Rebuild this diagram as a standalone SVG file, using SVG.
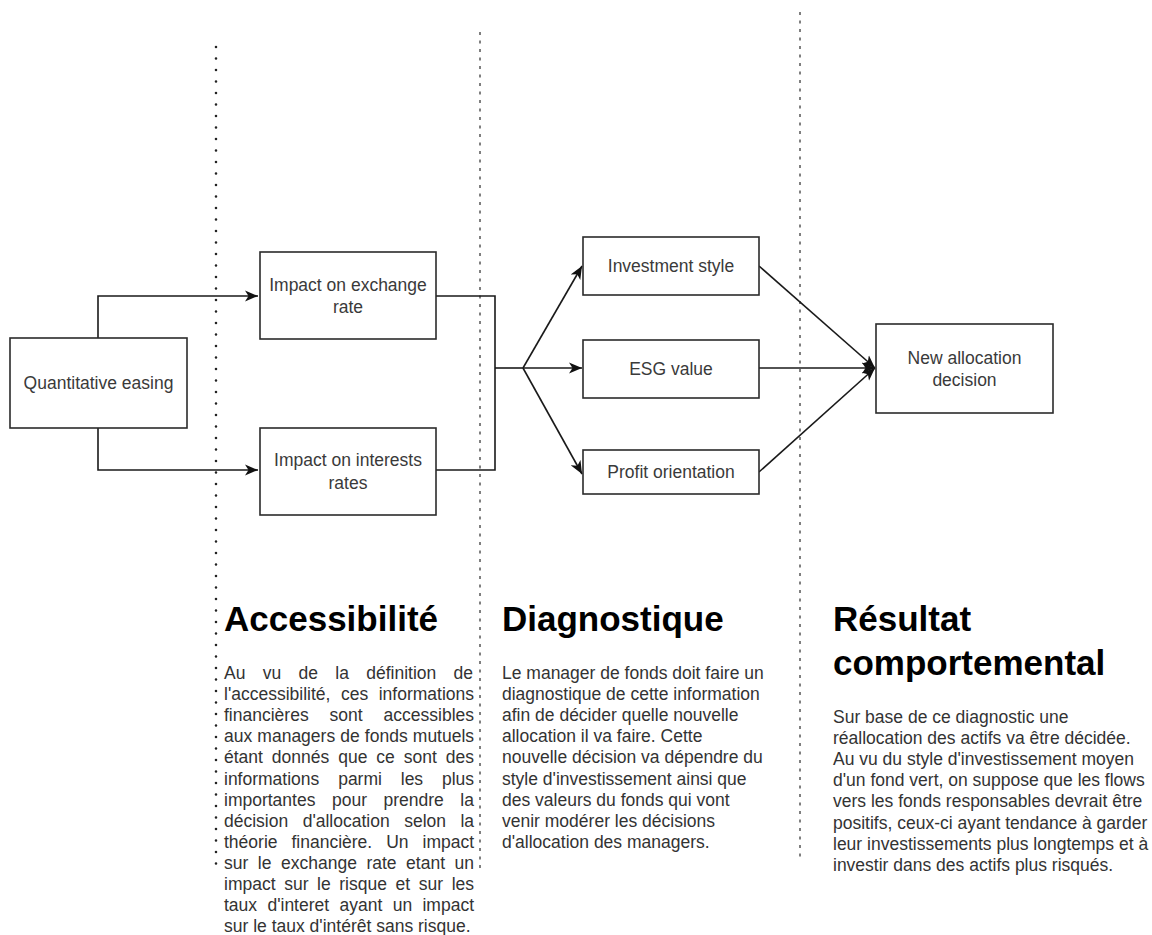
<svg xmlns="http://www.w3.org/2000/svg" width="1152" height="935" viewBox="0 0 1152 935">
<style>
.box{fill:#fff;stroke:#2b2b2b;stroke-width:1.6}
.lbl{font-family:"Liberation Sans",Arial,sans-serif;font-size:17.5px;fill:#3a3a3a;text-anchor:middle}
.edge{fill:none;stroke:#1a1a1a;stroke-width:1.6}
.title{font-family:"Liberation Sans",Arial,sans-serif;font-size:35px;font-weight:bold;fill:#000}
.body{font-family:"Liberation Sans",Arial,sans-serif;font-size:17.5px;fill:#333}
.sep1{stroke:#222;stroke-width:2.6;stroke-linecap:round;stroke-dasharray:0 11.5;fill:none}
.sep2{stroke:#555;stroke-width:1.5;stroke-dasharray:3 5.5;fill:none}
</style>
<defs>
<marker id="arr" markerUnits="userSpaceOnUse" markerWidth="14" markerHeight="12" viewBox="0 0 14 12" refX="13" refY="6" orient="auto">
<path d="M0,0.5 L13,6 L0,11.5 L3.5,6 Z" fill="#111"/>
</marker>
</defs>
<rect width="1152" height="935" fill="#fff"/>
<g id="separators">
<line class="sep1" x1="216" y1="47" x2="216" y2="870"/>
<line class="sep2" x1="480" y1="32" x2="480" y2="870"/>
<line class="sep2" x1="800" y1="12" x2="800" y2="862"/>
</g>
<g id="connectors">
<polyline class="edge" points="98,338 98,296 258,296" marker-end="url(#arr)"/>
<polyline class="edge" points="98,428 98,470 258,470" marker-end="url(#arr)"/>
<polyline class="edge" points="436,296 495,296 495,470 436,470"/>
<polyline class="edge" points="495,368 523,368"/>
<line class="edge" x1="523" y1="368" x2="582" y2="266" marker-end="url(#arr)"/>
<line class="edge" x1="523" y1="368" x2="582" y2="368" marker-end="url(#arr)"/>
<line class="edge" x1="523" y1="368" x2="582" y2="474" marker-end="url(#arr)"/>
<line class="edge" x1="759" y1="266" x2="875" y2="368" marker-end="url(#arr)"/>
<line class="edge" x1="759" y1="368" x2="875" y2="368" marker-end="url(#arr)"/>
<line class="edge" x1="759" y1="472" x2="875" y2="368" marker-end="url(#arr)"/>
</g>
<g id="qe">
<rect class="box" x="10" y="338" width="177" height="90"/>
<text class="lbl" x="98.5" y="389">Quantitative easing</text>
</g>
<g id="exchange">
<rect class="box" x="260" y="252" width="176" height="87"/>
<text class="lbl" x="348" y="291">Impact on exchange</text>
<text class="lbl" x="348" y="313">rate</text>
</g>
<g id="interest">
<rect class="box" x="260" y="428" width="176" height="87"/>
<text class="lbl" x="348" y="466">Impact on interests</text>
<text class="lbl" x="348" y="489">rates</text>
</g>
<g id="investment">
<rect class="box" x="583" y="237" width="176" height="58"/>
<text class="lbl" x="671" y="272">Investment style</text>
</g>
<g id="esg">
<rect class="box" x="583" y="340" width="176" height="58"/>
<text class="lbl" x="671" y="375">ESG value</text>
</g>
<g id="profit">
<rect class="box" x="583" y="450" width="176" height="44"/>
<text class="lbl" x="671" y="478">Profit orientation</text>
</g>
<g id="newalloc">
<rect class="box" x="876" y="324" width="177" height="89"/>
<text class="lbl" x="964.5" y="364">New allocation</text>
<text class="lbl" x="964.5" y="386">decision</text>
</g>
<g id="accessibilite">
<text class="title" x="224" y="631">Accessibilité</text>
<text class="body" x="224" y="679" word-spacing="12.45">Au vu de la définition de</text>
<text class="body" x="224" y="700.1" word-spacing="5.66">l'accessibilité, ces informations</text>
<text class="body" x="224" y="721.2" word-spacing="16.08">financières sont accessibles</text>
<text class="body" x="224" y="742.3" word-spacing="0.26">aux managers de fonds mutuels</text>
<text class="body" x="224" y="763.4" word-spacing="4.08">étant donnés que ce sont des</text>
<text class="body" x="224" y="784.5" word-spacing="13.97">informations parmi les plus</text>
<text class="body" x="224" y="805.6" word-spacing="11.67">importantes pour prendre la</text>
<text class="body" x="224" y="826.7" word-spacing="9.6">décision d'allocation selon la</text>
<text class="body" x="224" y="847.8" word-spacing="9.1">théorie financière. Un impact</text>
<text class="body" x="224" y="868.9" word-spacing="4.67">sur le exchange rate etant un</text>
<text class="body" x="224" y="890" word-spacing="3.74">impact sur le risque et sur les</text>
<text class="body" x="224" y="911.1" word-spacing="5.49">taux d'interet ayant un impact</text>
<text class="body" x="224" y="932.2">sur le taux d'intérêt sans risque.</text>
</g>
<g id="diagnostique">
<text class="title" x="502" y="631">Diagnostique</text>
<text class="body" x="502" y="679">Le manager de fonds doit faire un</text>
<text class="body" x="502" y="700.1">diagnostique de cette information</text>
<text class="body" x="502" y="721.2">afin de décider quelle nouvelle</text>
<text class="body" x="502" y="742.3">allocation il va faire. Cette</text>
<text class="body" x="502" y="763.4">nouvelle décision va dépendre du</text>
<text class="body" x="502" y="784.5">style d'investissement ainsi que</text>
<text class="body" x="502" y="805.6">des valeurs du fonds qui vont</text>
<text class="body" x="502" y="826.7">venir modérer les décisions</text>
<text class="body" x="502" y="847.8">d'allocation des managers.</text>
</g>
<g id="resultat">
<text class="title" x="833" y="631">Résultat</text>
<text class="title" x="833" y="675">comportemental</text>
<text class="body" x="833" y="723">Sur base de ce diagnostic une</text>
<text class="body" x="833" y="744.1">réallocation des actifs va être décidée.</text>
<text class="body" x="833" y="765.2">Au vu du style d'investissement moyen</text>
<text class="body" x="833" y="786.3">d'un fond vert, on suppose que les flows</text>
<text class="body" x="833" y="807.4">vers les fonds responsables devrait être</text>
<text class="body" x="833" y="828.5">positifs, ceux-ci ayant tendance à garder</text>
<text class="body" x="833" y="849.6">leur investissements plus longtemps et à</text>
<text class="body" x="833" y="870.7">investir dans des actifs plus risqués.</text>
</g>
</svg>
